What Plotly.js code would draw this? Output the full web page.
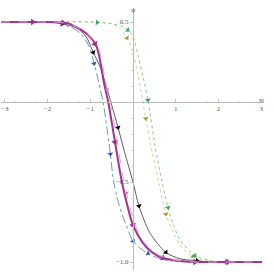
<!DOCTYPE html>
<html><head><meta charset="utf-8">
<script src="https://cdn.plot.ly/plotly-3.0.1.min.js"></script>
<style>html,body{margin:0;padding:0;background:#fff}#c{width:273px;height:273px}</style>
</head><body><div id="c"></div>
<script>
// ---- data ----
const blackX = [-3.1,-2.2,-1.8,-1.5,-1.25,-1.08,-0.93,-0.77,-0.52,-0.35,-0.2,0,0.14,0.4,0.77,1.1,1.41,1.8,2.2,3.1];
const blackY = [0.5,0.5,0.495,0.48,0.45,0.40,0.31,0.22,0,-0.16,-0.31,-0.5,-0.65,-0.82,-0.94,-0.98,-0.99,-1.0,-1.0,-1.0];
const blackArrows = [-1.66,-0.93,-0.35,0.14,0.77,1.5];

const magX = [-3.1,-2.0,-1.7,-1.5,-1.3,-1.1,-0.95,-0.85,-0.77,-0.68,-0.58,-0.44,-0.26,-0.12,0,0.23,0.45,0.7,1.0,1.45,2.0,3.1];
const magY = [0.5,0.5,0.497,0.49,0.465,0.43,0.39,0.345,0.26,0.12,0,-0.22,-0.5,-0.66,-0.77,-0.88,-0.94,-0.975,-0.99,-1.0,-1.0,-1.0];
const magArrows = [-2.35,-1.64,-0.89,-0.42,0,0.7,1.45,2.22];

const pinkX = [-3.1,-2.0,-1.7,-1.5,-1.3,-1.1,-0.93,-0.82,-0.73,-0.64,-0.53,-0.39,-0.21,-0.07,0.05,0.27,0.5,0.75,1.05,1.5,2.0,3.1];
const pinkY = [0.5,0.5,0.497,0.49,0.465,0.43,0.39,0.345,0.26,0.12,0,-0.22,-0.5,-0.66,-0.77,-0.88,-0.94,-0.975,-0.99,-1.0,-1.0,-1.0];
const pinkArrows = [-0.6,-0.15];

const blueX = [-3.1,-2.0,-1.75,-1.59,-1.4,-1.24,-1.05,-0.91,-0.80,-0.70,-0.56,-0.45,-0.34,-0.23,-0.1,0,0.3,0.7,1.0,1.45,2.0,3.1];
const blueY = [0.5,0.5,0.495,0.48,0.46,0.43,0.36,0.24,0.12,0,-0.26,-0.5,-0.63,-0.72,-0.81,-0.87,-0.94,-0.985,-0.995,-1.0,-1.0,-1.0];
const blueArrows = [-0.91,-0.53,0,0.35];

const greenX = [-3.1,-1.0,-0.54,-0.23,-0.12,0,0.12,0.24,0.36,0.52,0.68,0.82,0.95,1.1,1.45,1.8,2.18,3.1];
const greenY = [0.5,0.5,0.49,0.47,0.45,0.41,0.29,0.15,0,-0.28,-0.5,-0.66,-0.77,-0.86,-0.96,-0.99,-1.0,-1.0];
const greenArrows = [-0.84,-0.12,0.35,0.82,1.45,2.18];

const oliveX = [-3.1,-1.0,-0.5,-0.3,-0.14,0,0.12,0.23,0.4,0.6,0.77,0.95,1.15,1.45,1.8,2.2,3.1];
const oliveY = [0.5,0.5,0.49,0.46,0.40,0.31,0.16,0,-0.25,-0.5,-0.7,-0.82,-0.91,-0.975,-0.995,-1.0,-1.0];
const oliveArrows = [-0.14,0.3,0.77,1.4];

const xTicks = [-3,-2,-1,1,2,3];
const xTickText = ['\u22123','\u22122','\u22121','1','2','3'];
const yTicks = [-1,-0.5,0.5];
const yTickText = ['\u22121.0','\u22120.5','0.5'];

// ---- layout geometry ----
const W = 273, H = 273;
const M = {l:1, r:11, t:8, b:3};
const xR = [-3.09, 3.02], yR = [-1.05, 0.5875];
const pw = W - M.l - M.r, ph = H - M.t - M.b;
const kx = pw/(xR[1]-xR[0]), ky = ph/(yR[1]-yR[0]);

function interp(xs, ys, x){
  for (let i=0;i<xs.length-1;i++){
    if (x>=xs[i] && x<=xs[i+1]){
      const t=(x-xs[i])/(xs[i+1]-xs[i]);
      return {y: ys[i]+t*(ys[i+1]-ys[i]), dx:(xs[i+1]-xs[i])*kx, dy:-(ys[i+1]-ys[i])*ky};
    }
  }
  return {y: ys[ys.length-1], dx:1, dy:0};
}

function series(xs, ys, arrows, lineStyle, arrowColor, arrowSize){
  const ax=[], ay=[], ang=[];
  arrows.forEach(x=>{const r=interp(xs,ys,x); ax.push(x); ay.push(r.y); ang.push(Math.atan2(r.dy,r.dx)*180/Math.PI);});
  return [
    {type:'scatter', mode:'lines', x:xs, y:ys, line:Object.assign({shape:'spline', smoothing:0.8}, lineStyle), hoverinfo:'skip'},
    {type:'scatter', mode:'markers', x:ax, y:ay, marker:{symbol:'triangle-right', size:arrowSize, color:arrowColor, angle:ang, line:{width:0}}, hoverinfo:'skip'}
  ];
}

const data = [].concat(
  series(oliveX, oliveY, oliveArrows, {color:'#dccf8e', width:1, dash:'dot'}, '#b09a3a', 5),
  series(greenX, greenY, greenArrows, {color:'#82cc9a', width:1, dash:'dot'}, '#3aa85e', 5),
  series(blueX, blueY, blueArrows, {color:'#7390d0', width:1, dash:'dashdot'}, '#3b5ca8', 5),
  series(blackX, blackY, blackArrows, {color:'#333333', width:0.8}, '#000000', 5),
  series(magX, magY, magArrows, {color:'#a3338f', width:2}, '#9a2c96', 6),
  series(pinkX, pinkY, pinkArrows, {color:'#e6a2d8', width:1, dash:'dash'}, '#d77ccb', 4)
);

const axFont = {family:'Liberation Serif, serif', size:7, color:'#555'};
const layout = {
  width:W, height:H, margin:M, showlegend:false,
  paper_bgcolor:'#fff', plot_bgcolor:'#fff',
  xaxis:{range:xR, anchor:'free', position:(0-yR[0])/(yR[1]-yR[0]), showgrid:false, zeroline:false,
    showline:true, linecolor:'#bbbbbb', linewidth:1, ticks:'inside', ticklen:3, tickcolor:'#bbbbbb', tickwidth:0.8,
    tickvals:xTicks, ticktext:xTickText, tickfont:axFont,
    minor:{dtick:0.25, ticks:'inside', ticklen:1.5, tickcolor:'#cccccc', showgrid:false}},
  yaxis:{range:yR, anchor:'free', position:(0-xR[0])/(xR[1]-xR[0]), showgrid:false, zeroline:false,
    showline:true, linecolor:'#bbbbbb', linewidth:1, ticks:'outside', ticklen:3, tickcolor:'#bbbbbb', tickwidth:0.8,
    tickvals:yTicks, ticktext:yTickText, tickfont:axFont,
    minor:{dtick:0.1, ticks:'outside', ticklen:1.5, tickcolor:'#cccccc', showgrid:false}},
  annotations:[
    {xref:'paper', yref:'paper', x:(266-M.l)/pw, y:(H-M.b-101)/ph, text:'N', showarrow:false, font:{family:'Liberation Serif, serif', size:7, color:'#555'}},
    {xref:'paper', yref:'paper', x:(133-M.l)/pw, y:(H-M.b-4)/ph, text:'\u03c8', showarrow:false, font:{family:'Liberation Serif, serif', size:7, color:'#555'}}
  ]
};
Plotly.newPlot('c', data, layout, {staticPlot:true, displayModeBar:false});
</script></body></html>
